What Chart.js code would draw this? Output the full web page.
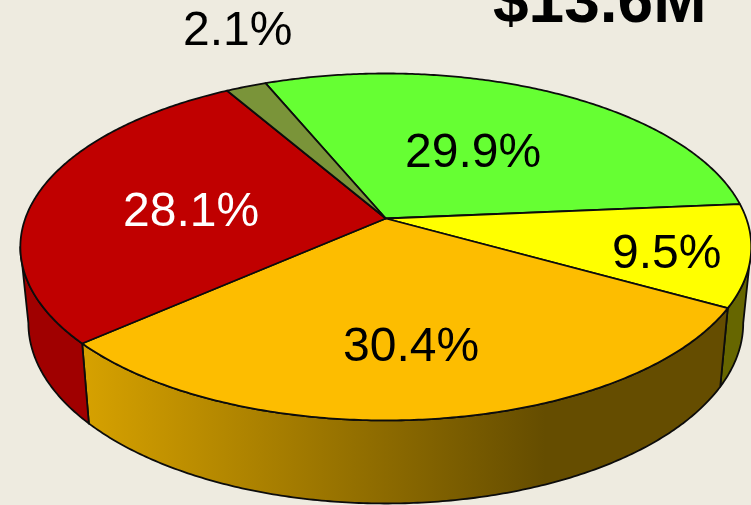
<!DOCTYPE html>
<html>
<head>
<meta charset="utf-8">
<style>
html,body{margin:0;padding:0;background:#EEEBE0;overflow:hidden}
canvas{display:block}
</style>
<script src="https://cdn.jsdelivr.net/npm/chart.js@4/dist/chart.umd.min.js"></script>
</head>
<body>
<canvas id="c" width="751" height="505"></canvas>
<script>
const categories = ["Segment A","Segment B","Segment C","Segment D","Segment E"];
const shares = [29.9, 9.5, 30.4, 28.1, 2.1];
const topColors = ["#66FF33","#FFFF00","#FDBD00","#C00000","#7A9439"];
const sideColors = ["#4DBF26","#666600","#D6A100","#A00000","#5C6F2B"];
const labelColors = ["#000000","#000000","#000000","#FFFFFF","#000000"];
const headline = "$13.6M";

// Layout of the tilted pie: perspective mapping of the unit disc to the page
const view = {cx:385.8, cy:218.5, a:360.5, b:168.8, k:0.164, wallSx:0.978, wallSy:1.04, wallDy:75};
const labelAt = [[405,167],[612,268],[343,361],[123,226],[183,45]];

function rim(t){
  const u=Math.cos(t), v=Math.sin(t), w=1-view.k*v;
  return [view.cx+view.a*u/w, view.cy+view.b*v/w];
}
function floorRim(t){
  const p=rim(t);
  return [view.cx+(p[0]-view.cx)*view.wallSx, (p[1]-view.cy)*view.wallSy+view.cy+view.wallDy];
}
function sample(a0,a1){
  const n=Math.max(2,Math.ceil(Math.abs(a1-a0)/0.01)), out=[];
  for(let i=0;i<=n;i++) out.push(a0+(a1-a0)*i/n);
  return out;
}
const TAU=Math.PI*2;
const pie3d={
  id:'pie3d',
  beforeDatasetsDraw(chart){
    const ctx=chart.ctx, arcs=chart.getDatasetMeta(0).data;
    const lo=Math.asin(view.k), hi=Math.PI-lo;
    ctx.save();
    ctx.lineJoin='round';
    ctx.strokeStyle='#0c0c0c';
    ctx.lineWidth=1.8;
    // walls
    arcs.forEach((arc,i)=>{
      let s=arc.startAngle, e=arc.endAngle;
      [0,TAU,-TAU].forEach(off=>{
        const a0=Math.max(s+off,lo), a1=Math.min(e+off,hi);
        if(a1<=a0) return;
        const ts=sample(a0,a1);
        ctx.beginPath();
        ts.forEach((t,j)=>{const p=rim(t); j?ctx.lineTo(p[0],p[1]):ctx.moveTo(p[0],p[1]);});
        ts.slice().reverse().forEach(t=>{const p=floorRim(t); ctx.lineTo(p[0],p[1]);});
        ctx.closePath();
        if(i===2){
          const g=ctx.createLinearGradient(85,0,545,0);
          g.addColorStop(0,sideColors[i]);
          g.addColorStop(1,'#654D00');
          ctx.fillStyle=g;
        } else ctx.fillStyle=sideColors[i];
        ctx.fill();
        ctx.stroke();
      });
    });
    // top faces
    arcs.forEach(arc=>{
      ctx.beginPath();
      ctx.moveTo(view.cx,view.cy);
      sample(arc.startAngle,arc.endAngle).forEach(t=>{const p=rim(t); ctx.lineTo(p[0],p[1]);});
      ctx.closePath();
      ctx.fillStyle=arc.options.backgroundColor;
      ctx.fill();
      ctx.stroke();
    });
    // value labels
    ctx.textBaseline='alphabetic';
    ctx.textAlign='left';
    ctx.font='48px "Liberation Sans", Arial, sans-serif';
    shares.forEach((v,i)=>{
      ctx.fillStyle=labelColors[i];
      ctx.fillText(v.toFixed(1)+'%',labelAt[i][0],labelAt[i][1]);
    });
    ctx.fillStyle='#000';
    ctx.font='bold 64px "Liberation Sans", Arial, sans-serif';
    ctx.fillText(headline,493,22);
    ctx.restore();
    return false;
  }
};
new Chart(document.getElementById('c'),{
  type:'pie',
  data:{labels:categories,datasets:[{data:shares,backgroundColor:topColors,borderWidth:0}]},
  options:{
    responsive:false,
    animation:false,
    rotation:-22.6,
    plugins:{legend:{display:false},tooltip:{enabled:false},title:{display:false}}
  },
  plugins:[pie3d]
});
</script>
</body>
</html>
